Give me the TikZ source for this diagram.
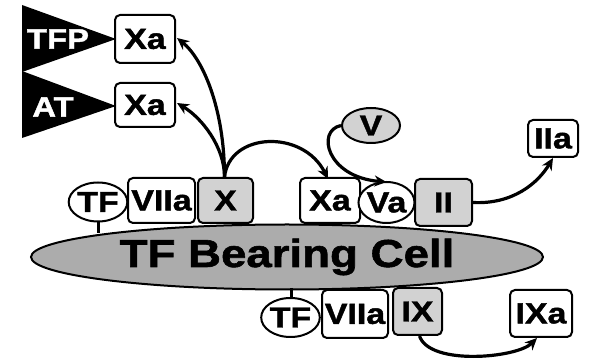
\documentclass[tikz,border=0pt]{standalone}
\usepackage{fontspec}
\setmainfont{Liberation Sans}[FakeStretch=1.17, BoldFeatures={FakeBold=1.5}]
\usetikzlibrary{shapes.geometric,arrows.meta}
\tikzset{
  box/.style={draw, line width=2pt, rounded corners=5pt, inner sep=0pt, font=\fontsize{29}{29}\selectfont\bfseries, fill=white},
  gbox/.style={box, fill=gray!35},
  oval/.style={draw, ellipse, line width=2pt, inner sep=0pt, font=\fontsize{29}{29}\selectfont\bfseries, fill=white},
  arr/.style={line width=3.2pt, -{Stealth[length=12pt,width=11pt]}},
  stick/.style={line width=3pt},
  wtext/.style={text=white, font=\fontsize{28}{28}\selectfont\bfseries, inner sep=0pt}
}
\begin{document}
\begin{tikzpicture}[x=1pt,y=-1pt]
\useasboundingbox (0,0) rectangle (592,363);
% inhibitor triangles
\fill (22,5) -- (116,39) -- (22,72) -- cycle;
\fill (22,71) -- (116,106) -- (22,138) -- cycle;
\node[wtext] (tfp) at (58,39) {TFP};
\node[wtext] (at) at (53,107) {AT};
% cell
\node[draw, ellipse, line width=2pt, fill=gray!65, minimum width=512pt, minimum height=65pt, inner sep=0pt, font=\fontsize{39}{39}\selectfont\bfseries] (cell) at (287,257) {TF Bearing Cell};
% sticks
\draw[stick] (98,221) -- (98,233);
\draw[stick] (291,288) -- (291,299);
% nodes
\node[box, minimum width=60pt, minimum height=48pt] (xa1) at (145,39) {Xa};
\node[box, minimum width=60pt, minimum height=44pt] (xa2) at (145,105) {Xa};
\node[oval, minimum width=53pt, minimum height=39pt] (tf1) at (98,202) {TF};
\node[box, minimum width=67pt, minimum height=45pt] (viia1) at (161.5,200.5) {VIIa};
\node[gbox, minimum width=55pt, minimum height=45pt] (x) at (225.5,200.5) {X};
\node[box, minimum width=60pt, minimum height=45pt] (xa3) at (330,200.5) {Xa};
\node[oval, minimum width=53pt, minimum height=41pt] (va) at (386.5,202.5) {Va};
\node[gbox, minimum width=57pt, minimum height=47pt] (ii) at (443.5,202.5) {II};
\node[oval, fill=gray!35, minimum width=58pt, minimum height=35pt] (v) at (371,125.5) {V};
\node[box, minimum width=50pt, minimum height=37pt] (iia) at (553,138.5) {IIa};
\node[oval, minimum width=55pt, minimum height=39pt] (tf2) at (290.5,317.5) {TF};
\node[box, minimum width=66pt, minimum height=48pt] (viia2) at (355,314) {VIIa};
\node[gbox, minimum width=49pt, minimum height=47pt] (ix) at (417.5,311.5) {IX};
\node[box, minimum width=62pt, minimum height=47pt] (ixa) at (541,313.5) {IXa};
% arrows
\coordinate (xt) at ([xshift=-1pt]x.north);
\draw[arr] (xt) .. controls +(0,-70) and +(25,20) .. ([xshift=1pt,yshift=1pt]xa1.east);
\draw[arr] (xt) .. controls +(0,-30) and +(25,15) .. ([xshift=1pt,yshift=2pt]xa2.east);
\draw[arr] (xt) .. controls +(5,-45) and +(-25,-50) .. ([xshift=-2pt,yshift=-2pt]xa3.north);
\draw[arr] (v.west) .. controls +(-25,5) and +(-60,-5) .. ([yshift=-1pt]va.north);
\draw[arr] (ii.east) .. controls +(40,2) and +(-15,25) .. (iia.south);
\draw[arr] ([xshift=2pt]ix.south) .. controls +(10,30) and +(-20,20) .. ([xshift=-4pt]ixa.south);
\end{tikzpicture}
\end{document}
